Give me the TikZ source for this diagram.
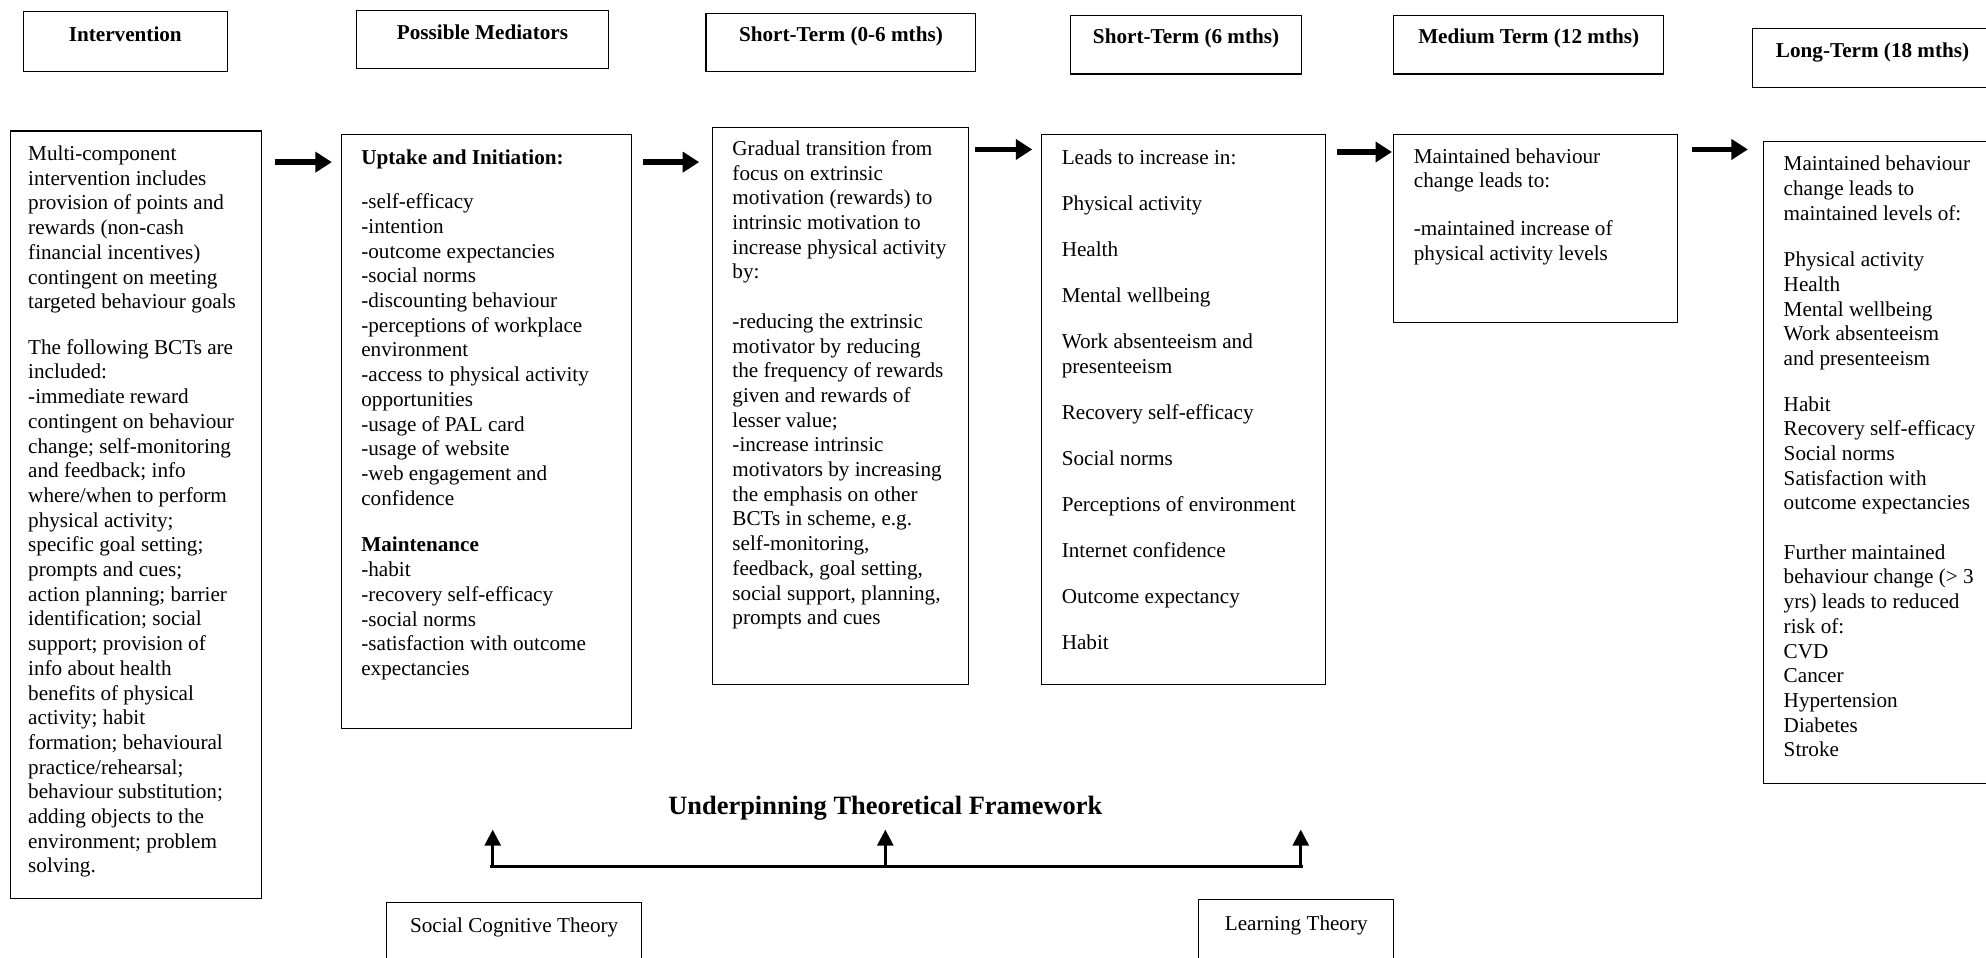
\documentclass[tikz,border=0pt]{standalone}
\usepackage{fontspec}
\setmainfont{Liberation Serif}
\usetikzlibrary{arrows.meta,calc}
\newcommand\bodyfont{\fontsize{11.7}{13.65}\selectfont}
\newcommand\titlefont{\fontsize{14.6}{17}\selectfont\bfseries}
\newcommand\fstrut{\rule{0pt}{9pt}}
\tikzset{
  frame/.style={draw, line width=0.6pt, inner sep=0pt, anchor=north west},
  hdr/.style={frame, font=\bodyfont\bfseries, inner xsep=0pt, inner ysep=0pt},
  txt/.style={anchor=north west, inner sep=0pt, align=left, font=\bodyfont},
  bigarrow/.style={line width=3pt, -{Triangle[length=9.1pt,width=11pt]}},
  uparrow/.style={line width=1.5pt, -{Triangle[length=8.8pt,width=8.8pt]}},
  baseline/.style={line width=2pt}
}
\begin{document}
\begin{tikzpicture}[x=0.7pt,y=-0.7pt]
\useasboundingbox (0,0) rectangle (1568,756);
\fill[white] (0,0) rectangle (1568,756);
\clip (0,0) rectangle (1568,756);

% header boxes
\node[hdr, minimum width=112.7pt, text height=16.1pt, text depth=16.8pt] (h1) at (18,9) {Intervention};
\node[hdr, minimum width=139.3pt, text height=16.1pt, text depth=16.1pt] (h2) at (281,8) {Possible Mediators};
\node[hdr, minimum width=149.1pt, text height=15.4pt, text depth=16.8pt] (h3) at (557,10) {Short-Term (0-6 mths)};
\node[hdr, minimum width=127.4pt, text height=15.4pt, text depth=16.8pt] (h4) at (845,12) {Short-Term (6 mths)};
\node[hdr, minimum width=149.1pt, text height=15.4pt, text depth=16.8pt] (h5) at (1100,12) {Medium Term (12 mths)};
\node[hdr, minimum width=133pt, text height=16.1pt, text depth=16.8pt] (h6) at (1383,22) {Long-Term (18 mths)};

% main boxes
\node[frame, minimum width=138.6pt, minimum height=424.2pt] (A) at (8,103) {};
\node[frame, minimum width=160.3pt, minimum height=328.3pt] (B) at (269,106) {};
\node[frame, minimum width=141.4pt, minimum height=308pt] (C) at (562,100) {};
\node[frame, minimum width=156.8pt, minimum height=303.8pt] (D) at (822,106) {};
\node[frame, minimum width=156.8pt, minimum height=103.6pt] (E) at (1100,106) {};
\node[frame, minimum width=133pt, minimum height=354.9pt] (F) at (1392,111) {};

% texts
\node[txt] (At) at ([shift={(14,10.6)}]A.north west) {\fstrut Multi-component\\
intervention includes\\
provision of points and\\
rewards (non-cash\\
financial incentives)\\
contingent on meeting\\
targeted behaviour goals\\[11.5pt]
The following BCTs are\\
included:\\
-immediate reward\\
contingent on behaviour\\
change; self-monitoring\\
and feedback; info\\
where/when to perform\\
physical activity;\\
specific goal setting;\\
prompts and cues;\\
action planning; barrier\\
identification; social\\
support; provision of\\
info about health\\
benefits of physical\\
activity; habit\\
formation; behavioural\\
practice/rehearsal;\\
behaviour substitution;\\
adding objects to the\\
environment; problem\\
solving.};

\node[txt] (Bt) at ([shift={(16,10.6)}]B.north west) {\fstrut\textbf{Uptake and Initiation:}\\[10.9pt]
-self-efficacy\\
-intention\\
-outcome expectancies\\
-social norms\\
-discounting behaviour\\
-perceptions of workplace\\
environment\\
-access to physical activity\\
opportunities\\
-usage of PAL card\\
-usage of website\\
-web engagement and\\
confidence\\[12.2pt]
\textbf{Maintenance}\\
-habit\\
-recovery self-efficacy\\
-social norms\\
-satisfaction with outcome\\
expectancies};

\node[txt] (Ct) at ([shift={(16,9.6)}]C.north west) {\fstrut Gradual transition from\\
focus on extrinsic\\
motivation (rewards) to\\
intrinsic motivation to\\
increase physical activity\\
by:\\[13.65pt]
-reducing the extrinsic\\
motivator by reducing\\
the frequency of rewards\\
given and rewards of\\
lesser value;\\
-increase intrinsic\\
motivators by increasing\\
the emphasis on other\\
BCTs in scheme, e.g.\\
self-monitoring,\\
feedback, goal setting,\\
social support, planning,\\
prompts and cues};

\node[txt] (Dt) at ([shift={(16,10.6)}]D.north west) {\fstrut Leads to increase in:\\[11.8pt]
Physical activity\\[11.8pt]
Health\\[11.8pt]
Mental wellbeing\\[11.8pt]
Work absenteeism and\\
presenteeism\\[11.8pt]
Recovery self-efficacy\\[11.8pt]
Social norms\\[11.8pt]
Perceptions of environment\\[11.8pt]
Internet confidence\\[11.8pt]
Outcome expectancy\\[11.8pt]
Habit};

\node[txt] (Et) at ([shift={(16,9.6)}]E.north west) {\fstrut Maintained behaviour\\
change leads to:\\[12.9pt]
-maintained increase of\\
physical activity levels};

\node[txt] (Ft) at ([shift={(16,10.6)}]F.north west) {\fstrut Maintained behaviour\\
change leads to\\
maintained levels of:\\[12.2pt]
Physical activity\\
Health\\
Mental wellbeing\\
Work absenteeism\\
and presenteeism\\[11.5pt]
Habit\\
Recovery self-efficacy\\
Social norms\\
Satisfaction with\\
outcome expectancies\\[13.6pt]
Further maintained\\
behaviour change (> 3\\
yrs) leads to reduced\\
risk of:\\
CVD\\
Cancer\\
Hypertension\\
Diabetes\\
Stroke};

% horizontal arrows
\draw[bigarrow] ([shift={(10,25)}]A.north east) -- ([shift={(-7,22)}]B.north west);
\draw[bigarrow] ([shift={(9,22)}]B.north east) -- ([shift={(-10,28)}]C.north west);
\draw[bigarrow] ([shift={(5,18)}]C.north east) -- ([shift={(-7,12)}]D.north west);
\draw[bigarrow] ([shift={(9,14)}]D.north east) -- ([shift={(-1,14)}]E.north west);
\draw[bigarrow] ([shift={(11,12)}]E.north east) -- ([shift={(-12,7)}]F.north west);

% theoretical framework
\node[font=\titlefont, anchor=base, inner sep=0pt] (utf) at (699,643) {Underpinning Theoretical Framework};
\coordinate (bl) at (387,684);
\coordinate (bm) at (699,684);
\coordinate (br) at (1029,684);
\coordinate (tl) at (389,655);
\coordinate (tm) at (699,655);
\coordinate (tr) at (1027,655);
\draw[baseline] (bl) -- (br);
\draw[uparrow] (bl -| tl) -- (tl);
\draw[uparrow] (bm) -- (tm);
\draw[uparrow] (br -| tr) -- (tr);

\node[frame, font=\bodyfont, minimum width=140.7pt, text height=16.45pt, text depth=28pt] (sct) at (305,712) {Social Cognitive Theory};
\node[frame, font=\bodyfont, minimum width=107.8pt, text height=17.15pt, text depth=28pt] (lt) at (946,710) {Learning Theory};
\end{tikzpicture}
\end{document}
